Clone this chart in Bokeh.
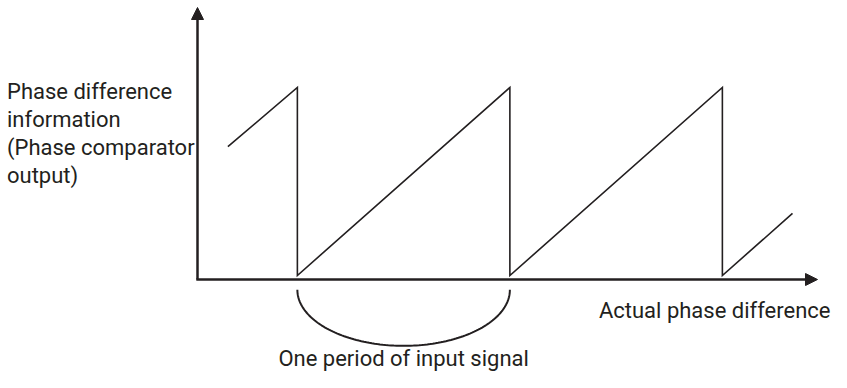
import numpy as np
from bokeh.plotting import figure
from bokeh.models import Range1d, Arrow, NormalHead, Label
from bokeh.embed import file_html
from bokeh.resources import INLINE

# ---- data (phase in units of one input-signal period, output normalised 0..1)
phase = [0.143, 0.47, 0.47, 1.47, 1.47, 2.47, 2.47, 2.80]
output = [0.685, 1.0, 0.0, 1.0, 0.0, 1.0, 0.0, 0.33]
period_start = 0.47
period_end = 1.47

y_label_lines = ["Phase difference", "information", "(Phase comparator", "output)"]
x_label = "Actual phase difference"
period_label = "One period of input signal"

INK = "#231f20"
FONT = "Roboto"
FS = "22px"
BASE_FIX = 8.5   # Label baseline correction (px)

# ---- scales: canvas pixels -> data
X0_PX, X_PER = 197.0, 212.5   # canvas x of phase 0, pixels per period
Y0_PX, Y_PER = 275.0, 188.0   # canvas y of output 0, pixels per unit output
W, H = 831, 372

def dx(px):
    return (px - X0_PX) / X_PER

def dy(py):
    return (Y0_PX - py) / Y_PER

def dyt(py):
    return dy(py - BASE_FIX)

p = figure(width=W, height=H,
           x_range=Range1d(dx(0), dx(W)),
           y_range=Range1d(dy(H), dy(0)),
           output_backend="svg", toolbar_location=None,
           x_axis_location=None, y_axis_location=None,
           min_border=0)
p.grid.visible = False
p.outline_line_color = None
p.background_fill_color = "white"
p.border_fill_color = "white"

# axes with arrow heads
axis_y = dy(279)
p.add_layout(Arrow(x_start=0, y_start=axis_y, x_end=0, y_end=dy(7),
                   line_width=2.5, line_color=INK,
                   end=NormalHead(size=12, fill_color=INK, line_color=INK, line_width=1)))
p.add_layout(Arrow(x_start=dx(195.8), y_start=axis_y, x_end=dx(817), y_end=axis_y,
                   line_width=2.5, line_color=INK,
                   end=NormalHead(size=12, fill_color=INK, line_color=INK, line_width=1)))

# sawtooth
p.line(phase, output, line_width=1.6, line_color=INK, line_join="miter")

# bracket arc under one period (half ellipse)
t = np.linspace(0, np.pi, 120)
mid = (period_start + period_end) / 2
half = (period_end - period_start) / 2
top = dy(289.3)
depth = 56.0 / Y_PER
p.line(mid - half * np.cos(t), top - depth * np.sin(t), line_width=2, line_color=INK)

# texts
for i, line in enumerate(y_label_lines):
    p.add_layout(Label(x=dx(6.5), y=dyt(99 + 28 * i), text=line,
                       text_font=FONT, text_font_size=FS, text_color=INK,
                       text_align="left", text_baseline="alphabetic"))

p.add_layout(Label(x=dx(830), y=dyt(318), text=x_label,
                   text_font=FONT, text_font_size=FS, text_color=INK,
                   text_align="right", text_baseline="alphabetic"))

p.add_layout(Label(x=mid, y=dyt(366.5), text=period_label,
                   text_font=FONT, text_font_size=FS, text_color=INK,
                   text_align="center", text_baseline="alphabetic"))

open("out.html", "w").write(file_html(p, INLINE))
